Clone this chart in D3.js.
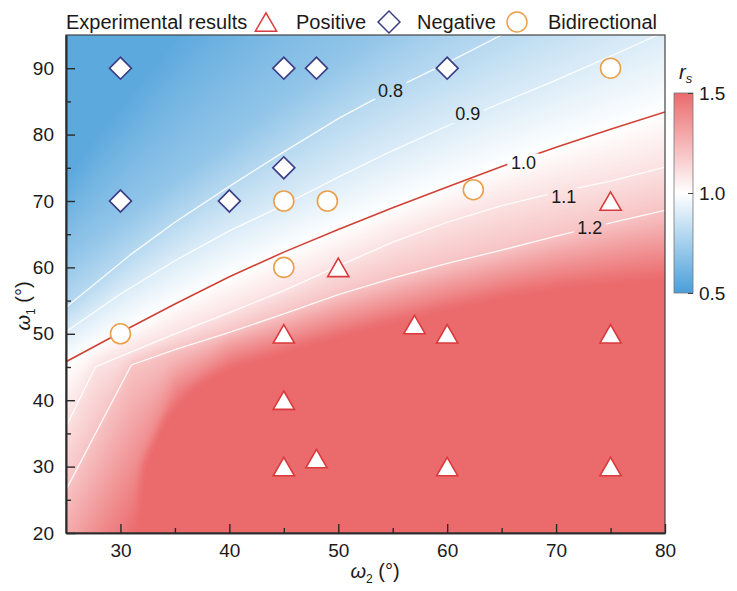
<!DOCTYPE html>
<html><head><meta charset="utf-8">
<script src="https://cdn.jsdelivr.net/npm/d3@7"></script>
<style>
body{margin:0;background:#fff;}
text{font-family:"Liberation Sans",Arial,Helvetica,sans-serif;fill:#1a1a1a;}
</style>
</head><body>
<svg id="chart" width="737" height="591"></svg>
<script>
// ---------------- DATA ----------------
const xTicks = [30, 40, 50, 60, 70, 80];
const xMinorTicks = [35, 45, 55, 65, 75];
const yTicks = [20, 30, 40, 50, 60, 70, 80, 90];
const yMinorTicks = [25, 35, 45, 55, 65, 75, 85];
const cbTicks = [0.5, 1.0, 1.5];

// iso-lines of r_s: [omega2, omega1] pairs
const isoLevels = [0.6, 0.7, 0.8, 0.9, 1.0, 1.1, 1.2, 1.3, 1.4, 1.5];
const iso06 = [[25,69],[28,75],[32,82],[36,89],[40,95],[50,110],[80,150]];
const iso07 = [[25,61],[30,67],[35,73],[40,79],[45,85],[50,90.5],[54,95],[80,125]];
const iso08 = [[25,54],[28,58],[31,62],[35,66.8],[40,72.2],[45,77.4],[50,82.4],[55,86.8],[60,90.8],[65,95],[80,108]];
const iso09 = [[25,50.3],[30,56],[35,61],[40,65.5],[45,69.4],[50,73.6],[55,77.6],[60,81.3],[65,84.8],[70,88.2],[75,91.8],[80,95.5]];
const iso10 = [[25,45.8],[30,50.2],[35,54.5],[40,58.6],[45,62.3],[50,65.7],[55,69.0],[60,72.1],[65,75.2],[70,78.1],[75,80.8],[80,83.4]];
const iso11 = [[25,36],[27.7,45],[30,46.6],[35,50],[40,53.2],[45,56.5],[50,60.2],[55,63.8],[60,66.8],[65,69.3],[70,71.3],[75,73.0],[80,75.1]];
const iso12 = [[25,26.5],[31,45.3],[35,47.6],[40,50.2],[45,53.0],[50,55.9],[55,58.4],[60,60.6],[65,62.6],[70,64.7],[75,66.7],[80,68.6]];
const iso13 = [[25,18.3],[31,36.4],[35,44.6],[40,48.8],[45,51.1],[50,53.8],[55,56.1],[60,58.3],[65,60.2],[70,62.1],[75,63.7],[80,65.1]];
const iso14 = [[25,10.2],[31,27.5],[35,41.7],[40,46.8],[45,49.1],[50,51.6],[55,53.8],[60,55.9],[65,57.8],[70,59.4],[75,60.6],[80,61.7]];
const iso15 = [[25,2],[31.5,20],[32,30],[34,37],[37,42],[40,44.7],[45,47.2],[50,49.5],[55,51.6],[60,53.6],[65,55.4],[70,56.8],[75,57.6],[80,58.2]];
const isoLines = [iso06, iso07, iso08, iso09, iso10, iso11, iso12, iso13, iso14, iso15];

const drawnLevels = [0.8, 0.9, 1.0, 1.1, 1.2];
const contourLabels = ["0.8", "0.9", "1.0", "1.1", "1.2"];
const contourLabelPos = [[54.8,86.7],[61.9,83.1],[67.0,75.8],[70.7,70.6],[73.1,66.0]];

const positive = [[75,70],[50,60],[45,50],[57,51.4],[60,50],[75,50],[45,40],[45,30],[48,31.2],[60,30],[75,30]];
const negative = [[30,90],[45,90],[48,90],[60,90],[30,70],[40,70],[45,75]];
const bidirectional = [[75,90],[45,70],[49,70],[62.4,71.7],[45,60],[30,50]];

const legendLabels = ["Experimental results", "Positive", "Negative", "Bidirectional"];

// ---------------- SETUP ----------------
const svg = d3.select("#chart");
const x = d3.scaleLinear().domain([25, 80]).range([66, 665]);
const y = d3.scaleLinear().domain([20, 95]).range([533, 35]);
const BLUE = "#4a9fda", RED = "#eb6a6c";
const color = d3.scaleLinear().domain([0.5, 1.0, 1.5]).range([BLUE, "#ffffff", RED]).clamp(true);

function isoAt(line, w) {
  if (w <= line[0][0]) return line[0][1];
  for (let i = 0; i < line.length - 1; i++) {
    const a = line[i], b = line[i + 1];
    if (w <= b[0]) return a[1] + (b[1] - a[1]) * (w - a[0]) / (b[0] - a[0]);
  }
  return line[line.length - 1][1];
}
function fieldAt(ys, w1) {
  const n = ys.length;
  if (w1 >= ys[0]) {
    const gap = Math.max(ys[0] - ys[1], 1);
    return Math.max(0.55, isoLevels[0] - 0.1 * (w1 - ys[0]) / gap);
  }
  if (w1 <= ys[n - 1]) return isoLevels[n - 1];
  for (let k = 0; k < n - 1; k++) {
    if (w1 <= ys[k] && w1 > ys[k + 1])
      return isoLevels[k] + (isoLevels[k + 1] - isoLevels[k]) * (ys[k] - w1) / (ys[k] - ys[k + 1]);
  }
  return 1;
}

// ---------------- RASTER FIELD ----------------
const x0 = x(25), x1 = x(80), yT = y(95), yB = y(20);
const pw = Math.round(x1 - x0), ph = Math.round(yB - yT);
const pad = 14;
const bw = pw + 2 * pad, bh = ph + 2 * pad;
const big = document.createElement("canvas");
big.width = bw; big.height = bh;
const bctx = big.getContext("2d");
const img = bctx.createImageData(bw, bh);
const lut = [];
for (let i = 0; i <= 1000; i++) { const c = d3.rgb(color(0.5 + i / 1000)); lut.push([c.r, c.g, c.b]); }
for (let px = 0; px < bw; px++) {
  const w2 = x.invert(x0 - pad + px + 0.5);
  const ys = isoLines.map(l => isoAt(l, w2));
  for (let py = 0; py < bh; py++) {
    const w1 = y.invert(yT - pad + py + 0.5);
    const v = fieldAt(ys, w1);
    const idx = Math.max(0, Math.min(1000, Math.round((v - 0.5) * 1000)));
    const c = lut[idx];
    const o = (py * bw + px) * 4;
    img.data[o] = c[0]; img.data[o + 1] = c[1]; img.data[o + 2] = c[2]; img.data[o + 3] = 255;
  }
}
bctx.putImageData(img, 0, 0);
const canvas = document.createElement("canvas");
canvas.width = pw; canvas.height = ph;
const ctx = canvas.getContext("2d");
ctx.filter = "blur(3px)";
ctx.drawImage(big, -pad, -pad);
svg.append("image").attr("x", x0).attr("y", yT).attr("width", pw).attr("height", ph)
  .attr("preserveAspectRatio", "none").attr("href", canvas.toDataURL());

// ---------------- CONTOUR LINES ----------------
const defs = svg.append("defs");
defs.append("clipPath").attr("id", "plotclip").append("rect")
  .attr("x", x0).attr("y", yT).attr("width", pw).attr("height", ph);
const mask = defs.append("mask").attr("id", "lblmask").attr("maskUnits", "userSpaceOnUse")
  .attr("x", 0).attr("y", 0).attr("width", 737).attr("height", 591);
mask.append("rect").attr("x", 0).attr("y", 0).attr("width", 737).attr("height", 591).attr("fill", "white");
mask.selectAll("rect.hole").data(contourLabelPos).join("rect").attr("class", "hole")
  .attr("x", d => x(d[0]) - 16).attr("y", d => y(d[1]) - 9).attr("width", 32).attr("height", 18).attr("fill", "black");

const lineGen = d3.line().x(d => x(d[0])).y(d => y(d[1]));
const cg = svg.append("g").attr("clip-path", "url(#plotclip)").append("g").attr("mask", "url(#lblmask)");
drawnLevels.forEach(lv => {
  const idx = isoLevels.indexOf(lv);
  cg.append("path").datum(isoLines[idx]).attr("d", lineGen).attr("fill", "none")
    .attr("stroke", lv === 1.0 ? "#cf4236" : "#ffffff")
    .attr("stroke-width", lv === 1.0 ? 1.6 : 1.3)
    .attr("stroke-opacity", lv === 1.0 ? 1 : 0.9);
});
svg.append("g").selectAll("text").data(contourLabels).join("text")
  .attr("x", (d, i) => x(contourLabelPos[i][0])).attr("y", (d, i) => y(contourLabelPos[i][1]))
  .attr("text-anchor", "middle").attr("dy", "0.36em").attr("font-size", 18).text(d => d);

// ---------------- FRAME & AXES ----------------
svg.append("rect").attr("x", x0).attr("y", yT).attr("width", pw).attr("height", ph)
  .attr("fill", "none").attr("stroke", "#444").attr("stroke-width", 1.2);

svg.append("g").attr("transform", `translate(0,${yB})`)
  .call(d3.axisBottom(x).tickValues(xTicks).tickSizeInner(-9).tickSizeOuter(0).tickPadding(11).tickFormat(d3.format("d")));
svg.append("g").attr("transform", `translate(0,${yB})`)
  .call(d3.axisBottom(x).tickValues(xMinorTicks).tickSizeInner(-5).tickSizeOuter(0).tickFormat(""));
svg.append("g").attr("transform", `translate(${x0},0)`)
  .call(d3.axisLeft(y).tickValues(yTicks).tickSizeInner(-9).tickSizeOuter(0).tickPadding(12).tickFormat(d3.format("d")));
svg.append("g").attr("transform", `translate(${x0},0)`)
  .call(d3.axisLeft(y).tickValues(yMinorTicks).tickSizeInner(-5).tickSizeOuter(0).tickFormat(""));
svg.selectAll(".domain").attr("stroke", "#2a2a2a").attr("stroke-width", 1.6);
svg.selectAll(".tick line").attr("stroke", "#2a2a2a").attr("stroke-width", 1.4);
svg.selectAll(".tick text").attr("font-size", 19).attr("fill", "#1a1a1a")
  .attr("font-family", "'Liberation Sans',Arial,sans-serif");

// axis titles
const xt = svg.append("text").attr("x", 375).attr("y", 578).attr("text-anchor", "middle").attr("font-size", 20);
xt.append("tspan").attr("font-style", "italic").text("ω");
xt.append("tspan").attr("font-size", 12).attr("dy", 5).text("2");
xt.append("tspan").attr("dy", -5).text(" (°)");
const yt = svg.append("text").attr("transform", "translate(30,306) rotate(-90)").attr("text-anchor", "middle").attr("font-size", 20);
yt.append("tspan").attr("font-style", "italic").text("ω");
yt.append("tspan").attr("font-size", 12).attr("dy", 5).text("1");
yt.append("tspan").attr("dy", -5).text(" (°)");

// ---------------- MARKERS ----------------
const triType = { draw(c, size) {
  const w = Math.sqrt(size * 4 / Math.sqrt(3)), h = w * Math.sqrt(3) / 2;
  c.moveTo(0, -h / 2); c.lineTo(w / 2, h / 2); c.lineTo(-w / 2, h / 2); c.closePath();
} };
const triPath = d3.symbol().type(triType).size(195)();
const diaPath = d3.symbol().type(d3.symbolSquare).size(240)();
const cirPath = d3.symbol().type(d3.symbolCircle).size(314)();
const TRI = "#d93a3b", DIA = "#3c3f86", CIR = "#e9a04c";

const mg = svg.append("g");
mg.selectAll("path.neg").data(negative).join("path").attr("class", "neg")
  .attr("transform", d => `translate(${x(d[0])},${y(d[1])}) rotate(45)`).attr("d", diaPath)
  .attr("fill", "#fff").attr("stroke", DIA).attr("stroke-width", 1.7);
mg.selectAll("path.bid").data(bidirectional).join("path").attr("class", "bid")
  .attr("transform", d => `translate(${x(d[0])},${y(d[1])})`).attr("d", cirPath)
  .attr("fill", "#fff").attr("stroke", CIR).attr("stroke-width", 1.6);
mg.selectAll("path.pos").data(positive).join("path").attr("class", "pos")
  .attr("transform", d => `translate(${x(d[0])},${y(d[1])})`).attr("d", triPath)
  .attr("fill", "#fff").attr("stroke", TRI).attr("stroke-width", 1.6);

// ---------------- LEGEND ----------------
const lg = svg.append("g").attr("font-size", 20);
const ly = 22;
lg.append("text").attr("x", 66).attr("y", ly).attr("dy", "0.35em").text(legendLabels[0]);
lg.append("path").attr("transform", `translate(266,${ly})`).attr("d", triPath).attr("fill", "#fff").attr("stroke", TRI).attr("stroke-width", 1.5);
lg.append("text").attr("x", 296).attr("y", ly).attr("dy", "0.35em").text(legendLabels[1]);
lg.append("path").attr("transform", `translate(389,${ly}) rotate(45)`).attr("d", diaPath).attr("fill", "#fff").attr("stroke", DIA).attr("stroke-width", 1.5);
lg.append("text").attr("x", 417).attr("y", ly).attr("dy", "0.35em").text(legendLabels[2]);
lg.append("path").attr("transform", `translate(517,${ly})`).attr("d", cirPath).attr("fill", "#fff").attr("stroke", CIR).attr("stroke-width", 1.5);
lg.append("text").attr("x", 548).attr("y", ly).attr("dy", "0.35em").text(legendLabels[3]);

// ---------------- COLORBAR ----------------
const cb = d3.scaleLinear().domain([0.5, 1.5]).range([293, 93]);
const grad = defs.append("linearGradient").attr("id", "cbgrad").attr("x1", 0).attr("y1", 1).attr("x2", 0).attr("y2", 0);
d3.range(0, 1.0001, 0.1).forEach(t => grad.append("stop").attr("offset", t).attr("stop-color", color(0.5 + t)));
svg.append("rect").attr("x", 674).attr("y", cb(1.5)).attr("width", 19).attr("height", cb(0.5) - cb(1.5))
  .attr("fill", "url(#cbgrad)").attr("stroke", "#777").attr("stroke-width", 0.8);
const cbAx = svg.append("g").attr("transform", "translate(693,0)")
  .call(d3.axisRight(cb).tickValues(cbTicks).tickSizeInner(-5).tickSizeOuter(0).tickPadding(6).tickFormat(d3.format(".1f")));
cbAx.select(".domain").remove();
cbAx.selectAll(".tick line").attr("stroke", "#444").attr("stroke-width", 1);
cbAx.selectAll(".tick text").attr("font-size", 19).attr("fill", "#1a1a1a").attr("font-family", "'Liberation Sans',Arial,sans-serif");
const rt = svg.append("text").attr("x", 679).attr("y", 79).attr("font-size", 20);
rt.append("tspan").attr("font-style", "italic").text("r");
rt.append("tspan").attr("font-style", "italic").attr("font-size", 13).attr("dy", 4).text("s");
</script>
</body></html>
